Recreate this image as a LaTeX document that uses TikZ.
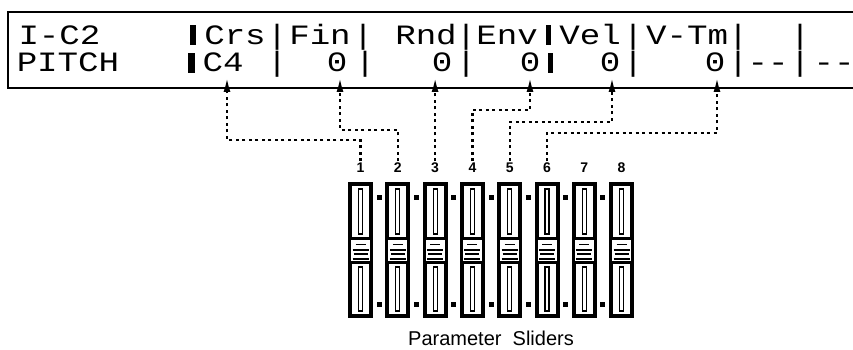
\documentclass[tikz,border=0pt]{standalone}
\usepackage{fontspec}
\setmainfont{Liberation Sans}
\newfontfamily\lcdfont[FakeStretch=1.22]{Liberation Mono}
\usetikzlibrary{arrows.meta}
\begin{document}
\begin{tikzpicture}[x=1pt,y=-1pt,
  lcd/.style={font=\lcdfont\fontsize{28}{28}\selectfont, inner sep=0pt, anchor=base},
  num/.style={font=\bfseries\fontsize{14}{14}\selectfont, inner sep=1.5pt},
  conn/.style={line width=2.4pt, dash pattern=on 3pt off 3.5pt, -{Latex[length=15pt,width=7pt]}},
  frame/.style={line width=2.5pt},
  bar/.style={fill=black},
  caption/.style={font=\fontsize{20}{20}\selectfont, inner sep=0pt, anchor=base}]
\useasboundingbox (0,0) rectangle (853,350);
% display
\draw[frame] (853,12) -- (8,12) -- (8,88) -- (853,88);
% row 1
\node[lcd] (ic2) at (59.5,45) {I-C2};
\node[lcd] (crs) at (235,45) {Crs};
\node[lcd] (fin) at (320,45) {Fin};
\node[lcd] (rnd) at (426,45) {Rnd};
\node[lcd] (env) at (507,45) {Env};
\node[lcd] (vel) at (590,45) {Vel};
\node[lcd] (vtm) at (687,45) {V-Tm};
\foreach \x [count=\k] in {277,363,466,633,738,800}
  \node[lcd] (sa\k) at (\x,45) {|};
% row 2
\node[lcd] (pitch) at (68,72) {PITCH};
\node[lcd] (c4) at (223,72) {C4};
\foreach \x [count=\k] in {337,442,530,610,715}
  \node[lcd] (z\k) at (\x,72) {0};
\foreach \x [count=\k] in {277,365,466,633,738,800}
  \node[lcd] (sb\k) at (\x,72) {|};
\node[lcd] (da1) at (768,72) {-{}-};
\node[lcd] (da2) at (834,72) {-{}-};
% cursor bars
\fill[bar] (190,25) rectangle (196,45);
\fill[bar] (188,53) rectangle (195,73);
\fill[bar] (546,25) rectangle (551,45);
\fill[bar] (548,53) rectangle (553,73);
% sliders
\foreach \i in {1,...,8}{
  \pgfmathsetmacro\c{360.5+37.3*(\i-1)}
  \fill[black] (\c-12.5,182) rectangle (\c+12.5,318);
  \fill[white] (\c-8.5,186) rectangle (\c+8.5,237);
  \fill[white] (\c-8.5,264) rectangle (\c+8.5,314);
  \fill[white] (\c-9.5,240) rectangle (\c+9.5,261);
  \draw[line width=1.2pt] (\c-2,189) rectangle (\c+2,234);
  \draw[line width=1.2pt] (\c-2,267) rectangle (\c+2,311);
  \draw[line width=1pt] (\c-5,244) -- (\c+5,244);
  \draw[line width=2pt] (\c-8,249.5) -- (\c+8,249.5);
  \draw[line width=1.5pt] (\c-7,254) -- (\c+7,254);
  \draw[line width=2pt] (\c-8,258.5) -- (\c+8,258.5);
  \node[num] (n\i) at (\c,168) {\i};
}
\foreach \i in {1,...,7}{
  \pgfmathsetmacro\m{360.5+37.3*(\i-1)+18.65}
  \fill (\m-2.5,194.5) rectangle (\m+2.5,199.5);
  \fill (\m-2.5,301.5) rectangle (\m+2.5,306.5);
}
% arrow tips and bends
\coordinate (t1) at (227,77);
\coordinate (t2) at (340,77);
\coordinate (t3) at (435.1,77);
\coordinate (t4) at (530,77);
\coordinate (t5) at (612,77);
\coordinate (t6) at (717,77);
\coordinate (b1) at (227,140);
\coordinate (b2) at (340,130);
\coordinate (b4) at (530,110);
\coordinate (b5) at (612,122);
\coordinate (b6) at (717,133);
\draw[conn] (n1.north) |- (b1) -- (t1);
\draw[conn] (n2.north) |- (b2) -- (t2);
\draw[conn] (n3.north) -- (t3);
\draw[conn] (n4.north) |- (b4) -- (t4);
\draw[conn] (n5.north) |- (b5) -- (t5);
\draw[conn] (n6.north) |- (b6) -- (t6);
% caption
\node[caption] (cap) at (491,345) {Parameter\ \ Sliders};
\end{tikzpicture}
\end{document}
